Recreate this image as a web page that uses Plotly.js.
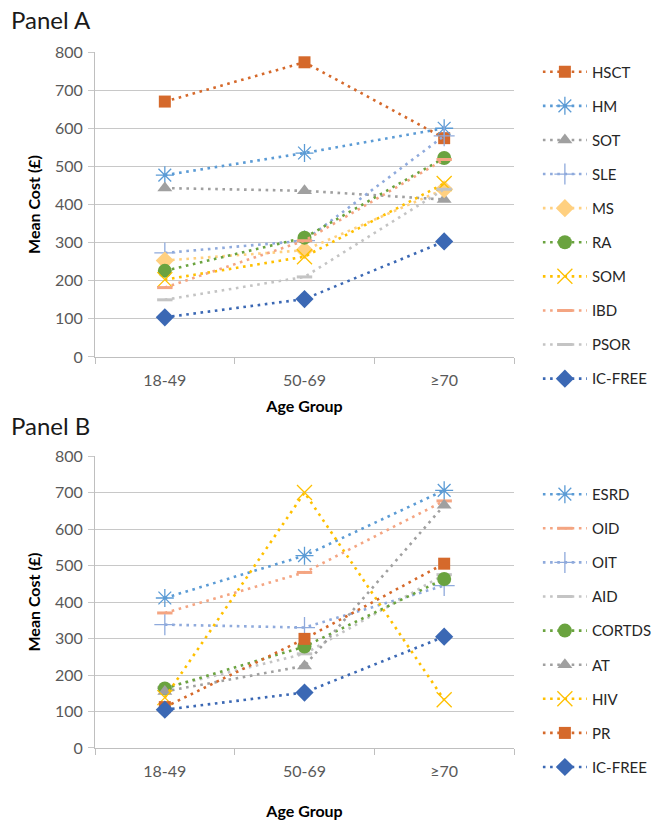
<!DOCTYPE html>
<html>
<head>
<meta charset="utf-8">
<script src="https://cdn.plot.ly/plotly-3.0.1.min.js"></script>
<style>html,body{margin:0;padding:0;background:#fff;}#chart{width:658px;height:820px;}</style>
</head>
<body>
<div id="chart"></div>
<script>
// ---- data ----
const ageGroups = ['18-49', '50-69', '≥70'];

// Panel A
const namesA = ['HSCT', 'HM', 'SOT', 'SLE', 'MS', 'RA', 'SOM', 'IBD', 'PSOR', 'IC-FREE'];
const hsct   = [670, 773, 574];
const hm     = [477, 535, 600];
const sot    = [443, 436, 413];
const sle    = [273, 305, 580];
const ms     = [253, 280, 440];
const ra     = [226, 313, 522];
const som    = [203, 263, 455];
const ibd    = [182, 305, 518];
const psor   = [150, 210, 440];
const icfreeA = [104, 152, 303];

// Panel B
const namesB = ['ESRD', 'OID', 'OIT', 'AID', 'CORTDS', 'AT', 'HIV', 'PR', 'IC-FREE'];
const esrd   = [411, 527, 706];
const oid    = [370, 481, 677];
const oit    = [338, 330, 445];
const aid    = [165, 258, 475];
const cortds = [163, 278, 463];
const at     = [155, 225, 665];
const hiv    = [138, 700, 132];
const pr     = [112, 299, 505];
const icfreeB = [105, 152, 305];

// ---- styles ----
const styleA = [
  {c:'#D5692B', sym:'square', size:12},
  {c:'#5B9BD5', sym:'asterisk-open', size:15, open:true},
  {c:'#A0A0A0', sym:'triangle-up', size:13},
  {c:'#8FAADC', sym:'cross-thin-open', size:15, open:true},
  {c:'#FFD080', sym:'diamond', size:14},
  {c:'#6AA33F', sym:'circle', size:14},
  {c:'#FFC000', sym:'x-thin-open', size:15, open:true},
  {c:'#F4A582', sym:'line-ew-open', size:11, open:true, lw:3},
  {c:'#C4C4C4', sym:'line-ew-open', size:11, open:true, lw:3},
  {c:'#3B68B4', sym:'diamond', size:14}
];
const styleB = [
  {c:'#5B9BD5', sym:'asterisk-open', size:15, open:true},
  {c:'#F4A582', sym:'line-ew-open', size:11, open:true, lw:3},
  {c:'#8FAADC', sym:'cross-thin-open', size:15, open:true},
  {c:'#C4C4C4', sym:'line-ew-open', size:11, open:true, lw:3},
  {c:'#6AA33F', sym:'circle', size:14},
  {c:'#A0A0A0', sym:'triangle-up', size:13},
  {c:'#FFC000', sym:'x-thin-open', size:15, open:true},
  {c:'#D5692B', sym:'square', size:12},
  {c:'#3B68B4', sym:'diamond', size:14}
];

const seriesA = [hsct, hm, sot, sle, ms, ra, som, ibd, psor, icfreeA];
const seriesB = [esrd, oid, oit, aid, cortds, at, hiv, pr, icfreeB];

function mk(name, vals, st, xa, ya, leg, grp) {
  const marker = {symbol: st.sym, size: st.size, color: st.c};
  if (st.open) marker.line = {color: st.c, width: st.lw || 1.3};
  else marker.line = {width: 0};
  return {
    type: 'scatter', mode: 'lines+markers', name: name,
    x: ageGroups, y: vals, xaxis: xa, yaxis: ya,
    line: {color: st.c, width: 2.6, dash: '2.6px,4.6px'},
    marker: marker, legend: leg, legendgroup: grp
  };
}

const traces = [];
seriesA.forEach((v, i) => traces.push(mk(namesA[i], v, styleA[i], 'x', 'y', 'legend', 'a' + i)));
seriesB.forEach((v, i) => traces.push(mk(namesB[i], v, styleB[i], 'x2', 'y2', 'legend2', 'b' + i)));

const FONT = 'Lato, "Open Sans", "Liberation Sans", sans-serif';
const tickCol = '#595959';
const gridCol = '#C8C8C8';

function xax(anchor, standoff) {
  return {
    anchor: anchor, type: 'category', range: [-0.5, 2.5], tickson: 'boundaries',
    ticks: 'outside', ticklen: 6, tickcolor: '#BFBFBF', showline: true, linecolor: '#BFBFBF',
    showgrid: false, tickfont: {family: FONT, size: 16, color: tickCol}, ticklabelstandoff: 9,
    title: {text: '<b>Age Group</b>', font: {family: FONT, size: 16, color: '#000'}, standoff: standoff},
    fixedrange: true
  };
}
function yax(anchor, domain) {
  return {
    anchor: anchor, domain: domain, range: [0, 800], dtick: 100,
    ticks: 'outside', ticklen: 6, tickcolor: gridCol, showline: true, linecolor: '#BFBFBF',
    gridcolor: gridCol, gridwidth: 1, zeroline: false,
    tickfont: {family: FONT, size: 16, color: tickCol}, ticklabelstandoff: 2,
    title: {text: '<b>Mean Cost (£)</b>', font: {family: FONT, size: 16, color: '#000'}, standoff: 10},
    fixedrange: true
  };
}

const legendBase = {
  font: {family: FONT, size: 15, color: '#262626'}, bgcolor: 'rgba(0,0,0,0)',
  tracegroupgap: 11.6, itemwidth: 44, xanchor: 'left', yanchor: 'top', traceorder: 'grouped'
};

const layout = {
  width: 658, height: 820,
  margin: {l: 95, r: 144, t: 52, b: 72, autoexpand: false},
  paper_bgcolor: '#fff', plot_bgcolor: '#fff',
  font: {family: FONT},
  showlegend: true,
  xaxis: xax('y', 12),
  yaxis: yax('x', [0.5618, 1]),
  xaxis2: xax('y2', 28),
  yaxis2: yax('x2', [0, 0.4195]),
  legend: Object.assign({}, legendBase, {x: 1.057, y: 0.995}),
  legend2: Object.assign({}, legendBase, {x: 1.057, y: 0.388}),
  annotations: [
    {text: 'Panel A', xref: 'paper', yref: 'paper', x: -0.205, y: 1.046, xanchor: 'left', yanchor: 'middle',
     showarrow: false, font: {family: FONT, size: 24, color: '#1a1a1a'}},
    {text: 'Panel B', xref: 'paper', yref: 'paper', x: -0.205, y: 0.464, xanchor: 'left', yanchor: 'middle',
     showarrow: false, font: {family: FONT, size: 24, color: '#1a1a1a'}}
  ]
};

Plotly.newPlot('chart', traces, layout, {displayModeBar: false, staticPlot: true});
</script>
</body>
</html>
